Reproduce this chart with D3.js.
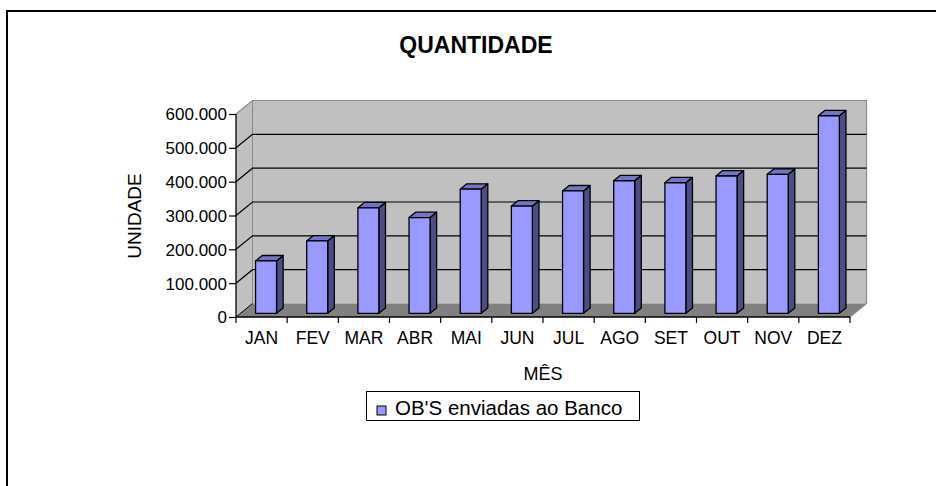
<!DOCTYPE html>
<html><head><meta charset="utf-8">
<script src="https://cdn.jsdelivr.net/npm/d3@7"></script>
<style>
body{margin:0;background:#fff;}
svg text{font-family:"Liberation Sans",Arial,sans-serif;fill:#000;}
</style></head>
<body><svg id="c" width="936" height="486"></svg>
<script>
const months = ["JAN","FEV","MAR","ABR","MAI","JUN","JUL","AGO","SET","OUT","NOV","DEZ"];
const values = [155000,214000,312000,283000,367000,317000,362000,392000,386000,406000,411000,584000];
const yTicks = [0,100000,200000,300000,400000,500000,600000];
const titleText = "QUANTIDADE";
const xTitle = "MÊS";
const yTitle = "UNIDADE";
const seriesName = "OB'S enviadas ao Banco";

const svg = d3.select("#c");
// outer frame
svg.append("rect").attr("x",7).attr("y",11).attr("width",1000).attr("height",1000)
  .attr("fill","#fff").attr("stroke","#000").attr("stroke-width",2);

const fx0 = 236, fy0 = 317, fw = 614, fh = 203, ddx = 16.5, ddy = 13.5;
const x = d3.scaleBand().domain(months).range([0, fw]).paddingInner(0.59).paddingOuter(0.295);
const y = d3.scaleLinear().domain([0, 600000]).range([0, fh]);
const P = (px, h, f) => [fx0 + px + f*ddx, fy0 - h - f*ddy];
const poly = pts => "M" + pts.map(p => p.join(",")).join("L") + "Z";
const line = pts => "M" + pts.map(p => p.join(",")).join("L");

const g = svg.append("g");
// side wall
g.append("path").attr("d", poly([P(0,0,0),P(0,fh,0),P(0,fh,1),P(0,0,1)])).attr("fill","#c0c0c0");
// back wall
g.append("path").attr("d", poly([P(0,0,1),P(0,fh,1),P(fw,fh,1),P(fw,0,1)])).attr("fill","#c0c0c0");
// floor
g.append("path").attr("d", poly([P(0,0,0),P(fw,0,0),P(fw,0,1),P(0,0,1)])).attr("fill","#808080");
// wall borders (gray)
g.append("path").attr("d", line([P(0,fh,0),P(0,fh,1),P(fw,fh,1),P(fw,0,1),P(fw,0,0)]))
  .attr("fill","none").attr("stroke","#8c8c8c").attr("stroke-width",1.2);
g.append("path").attr("d", line([P(0,0,1),P(0,fh,1)]))
  .attr("fill","none").attr("stroke","#8c8c8c").attr("stroke-width",1);
// gridlines
yTicks.filter(t => t > 0 && t < 600000).forEach(t => {
  g.append("path").attr("d", line([P(0,y(t),0),P(0,y(t),1),P(fw,y(t),1)]))
    .attr("fill","none").attr("stroke","#000").attr("stroke-width",1.2);
});
g.append("path").attr("d", line([P(0,0,0),P(0,0,1)]))
  .attr("fill","none").attr("stroke","#000").attr("stroke-width",1);

// bars
const f1 = 0.27, f2 = 0.67, bw = x.bandwidth();
const bars = g.append("g").selectAll("g").data(months).join("g");
bars.each(function(m, i){
  const gg = d3.select(this);
  const x0 = x(m), h = y(values[i]);
  gg.append("path").attr("d", poly([P(x0+bw,0,f1),P(x0+bw,0,f2),P(x0+bw,h,f2),P(x0+bw,h,f1)]))
    .attr("fill","#4d4d85").attr("stroke","#000").attr("stroke-width",1.3).attr("stroke-linejoin","round");
  gg.append("path").attr("d", poly([P(x0,h,f1),P(x0+bw,h,f1),P(x0+bw,h,f2),P(x0,h,f2)]))
    .attr("fill","#7474c4").attr("stroke","#000").attr("stroke-width",1.3).attr("stroke-linejoin","round");
  gg.append("path").attr("d", poly([P(x0,0,f1),P(x0+bw,0,f1),P(x0+bw,h,f1),P(x0,h,f1)]))
    .attr("fill","#9999ff").attr("stroke","#000").attr("stroke-width",1.3).attr("stroke-linejoin","round");
});

// front y axis line
g.append("path").attr("d", line([P(0,0,0),P(0,fh,0)])).attr("stroke","#000").attr("stroke-width",1.3).attr("fill","none");
// x axis line
g.append("path").attr("d", line([P(0,0,0),P(fw,0,0)])).attr("stroke","#000").attr("stroke-width",1.3).attr("fill","none");

const loc = d3.formatLocale({decimal:",", thousands:".", grouping:[3], currency:["R$",""]});
const fmt = loc.format(",.0f");
const yAxisScale = d3.scaleLinear().domain([0,600000]).range([fy0, fy0 - fh]);
const ya = svg.append("g").attr("transform", `translate(${fx0},0)`)
  .call(d3.axisLeft(yAxisScale).tickValues(yTicks).tickFormat(fmt).tickSize(7).tickPadding(2));
ya.select(".domain").remove();
ya.selectAll("line").attr("stroke","#000").attr("stroke-width",1.2);
ya.selectAll("text").style("font-size","17px").attr("fill","#000").attr("dy","0.35em");

// x axis ticks at boundaries
const step = x.step();
d3.range(months.length + 1).forEach(i => {
  svg.append("line").attr("x1", fx0 + i*step).attr("x2", fx0 + i*step)
    .attr("y1", fy0).attr("y2", fy0 + 6).attr("stroke","#000").attr("stroke-width",1.2);
});
const xAxisScale = d3.scaleBand().domain(months).range([fx0, fx0 + fw]);
const xa = svg.append("g").attr("transform", `translate(0,${fy0})`)
  .call(d3.axisBottom(xAxisScale).tickSize(0));
xa.select(".domain").remove();
xa.selectAll("text").style("font-size","17.5px").attr("fill","#000").attr("y", 27).attr("dy", 0);

// titles
svg.append("text").attr("x", 476).attr("y", 53).attr("text-anchor","middle")
  .style("font-size","23px").style("font-weight","bold").text(titleText);
svg.append("text").attr("x", 543).attr("y", 380).attr("text-anchor","middle")
  .style("font-size","18px").text(xTitle);
svg.append("text").attr("transform","translate(141,216) rotate(-90)").attr("text-anchor","middle")
  .style("font-size","19px").text(yTitle);

// legend
const lg = svg.append("g");
lg.append("rect").attr("x",366.5).attr("y",391.5).attr("width",273).attr("height",29)
  .attr("fill","#fff").attr("stroke","#000").attr("stroke-width",1);
lg.append("rect").attr("x",377).attr("y",406).attr("width",9).attr("height",9)
  .attr("fill","#9999ff").attr("stroke","#000").attr("stroke-width",1);
lg.append("text").attr("x",395).attr("y",415).style("font-size","20.5px").text(seriesName);
</script></body></html>
